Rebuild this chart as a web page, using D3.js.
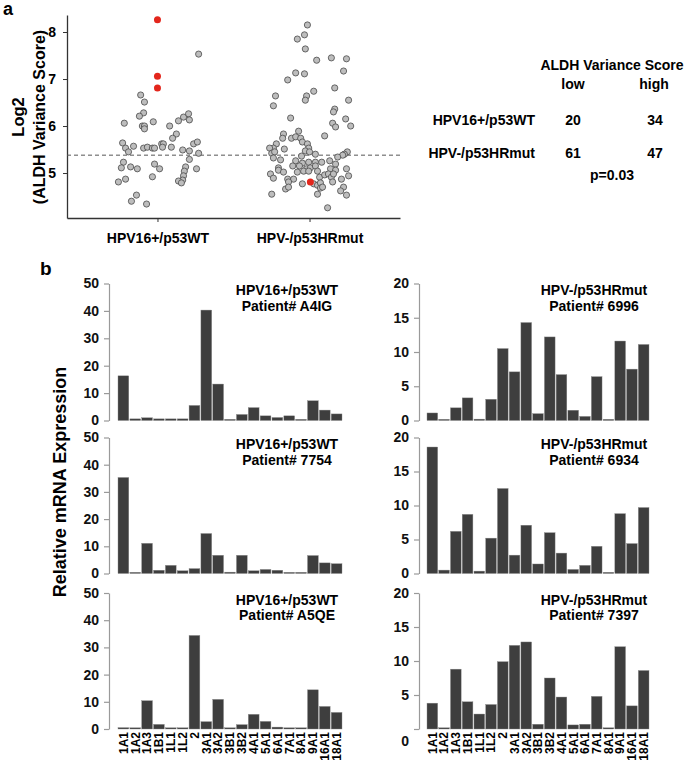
<!DOCTYPE html>
<html><head><meta charset="utf-8">
<script src="https://cdn.jsdelivr.net/npm/d3@7"></script>
<style>
body{margin:0;background:#fff}
svg{display:block;font-family:"Liberation Sans",Arial,Helvetica,sans-serif;font-weight:bold}
</style>
</head><body>
<svg id="c" width="685" height="761"></svg>
<script>
// ---------- Panel a data ----------
const groups = ["HPV16+/p53WT", "HPV-/p53HRmut"];
const hpv16Scores = [7.53,6.66,6.51,6.28,6.21,6.06,6.09,6.00,6.00,5.94,6.00,6.19,6.26,6.13,6.11,5.83,5.74,5.64,5.53,5.45,5.57,5.53,5.55,5.53,5.53,5.62,5.62,5.55,5.55,5.49,5.62,5.66,5.47,5.42,5.29,5.23,5.11,5.13,5.09,5.19,5.09,5.13,5.04,4.94,4.85,4.83,4.79,5.09,4.92,4.87,4.81,4.53,4.40,4.34];
const hpv16Jitter = [0.98,-0.40,-0.31,-0.33,-0.43,-0.79,-0.10,-0.36,-0.31,-0.31,0.29,0.62,0.74,0.76,0.50,0.45,0.36,-0.83,-0.76,-0.69,-0.57,-0.33,-0.24,-0.12,-0.07,0.10,0.14,0.12,0.33,0.60,0.86,0.95,0.76,0.98,0.76,-0.81,-0.86,-0.64,-0.48,-0.07,0.05,0.67,0.64,0.62,0.60,0.50,0.57,0.93,-0.12,-0.76,-0.93,-0.50,-0.62,-0.26];
const hpv16Highlight = [8.26, 7.06, 6.81];
const hpv16HighlightJitter = [0, 0, 0];
const hpvNegScores = [8.15,7.94,7.85,7.64,7.40,7.45,7.43,7.17,7.13,7.11,6.98,6.74,6.81,6.64,6.64,6.55,6.55,6.43,6.36,6.30,6.17,6.15,6.06,5.98,6.00,5.89,5.79,5.83,5.74,5.74,5.77,5.74,5.66,5.62,5.53,5.53,5.51,5.62,5.53,5.47,5.42,5.45,5.45,5.40,5.36,5.32,5.28,5.45,5.40,5.38,5.34,5.26,5.21,5.23,5.23,5.23,5.26,5.19,5.15,5.15,5.09,5.11,5.15,5.11,5.06,5.02,5.02,5.04,5.04,5.04,5.09,5.06,5.09,4.98,4.89,4.91,4.96,4.98,4.91,4.98,4.94,4.87,4.87,4.81,4.77,4.77,4.74,4.79,4.81,4.87,4.68,4.70,4.66,4.70,4.70,4.62,4.53,4.55,4.55,4.26];
const hpvNegJitter = [-0.05,-0.12,-0.29,-0.10,0.17,0.52,0.88,0.81,-0.33,-0.12,-0.52,0.10,0.60,-0.81,-0.07,-0.10,0.93,-0.86,0.60,0.57,-0.45,0.86,0.55,0.62,0.98,-0.26,0.36,-0.62,-0.64,-0.43,-0.33,-0.21,-0.17,-0.79,-0.86,-0.95,-0.60,-0.05,-0.02,-0.10,-0.90,-0.83,0.00,0.14,-0.19,-0.86,-0.69,0.90,0.83,0.79,0.67,-0.33,-0.17,-0.02,0.14,0.29,0.48,0.62,-0.40,-0.24,-0.07,0.02,0.14,-0.74,-0.74,-0.62,-0.29,-0.14,-0.02,0.19,0.50,0.62,0.88,-0.93,-0.86,0.24,0.36,0.45,0.52,0.57,0.93,-0.52,-0.38,-0.50,-0.17,0.10,0.19,0.26,0.55,0.76,0.26,0.31,-0.57,-0.50,0.81,0.74,0.88,-0.90,0.19,0.43];
const hpvNegHighlight = [4.81];
const hpvNegHighlightJitter = [0.02];
const scoreTicks = [5, 6, 7, 8];
const scoreCutoff = 5.38;

// ---------- Table data ----------
const tableTitle = "ALDH Variance Score";
const tableCols = ["low", "high"];
const tableRows = ["HPV16+/p53WT", "HPV-/p53HRmut"];
const tableCounts = [[20, 34], [61, 47]];
const pValueText = "p=0.03";

// ---------- Panel b data ----------
const genes = ["1A1","1A2","1A3","1B1","1L1","1L2","2","3A1","3A2","3B1","3B2","4A1","5A1","6A1","7A1","8A1","9A1","16A1","18A1"];
const patA4IG = [16.3,0.6,1.0,0.6,0.6,0.6,5.5,40.3,13.3,0.4,2.2,4.7,1.7,1.1,1.7,0.2,7.2,3.8,2.4];
const pat7754 = [35.3,0.1,11.1,1.2,3.0,1.0,1.8,14.7,6.7,0.5,6.7,1.0,1.5,1.2,0.4,0.1,6.6,3.9,3.6];
const patA5QE = [0.5,0.1,10.4,1.7,0.2,0.1,34.4,2.7,10.9,0.4,1.6,5.4,2.8,0.7,0.1,0.1,14.4,8.3,6.1];
const pat6996 = [1.1,0.15,1.85,3.3,0.2,3.1,10.5,7.1,14.3,1.0,12.2,6.7,1.5,0.6,6.4,0.05,11.6,7.5,11.1];
const pat6934 = [18.6,0.5,6.2,8.7,0.35,5.2,12.5,2.7,7.1,1.4,6.0,3.0,0.6,1.2,4.0,0.05,8.8,4.4,9.7];
const pat7397 = [3.8,0.0,8.8,4.0,2.2,3.6,9.9,12.3,12.8,0.7,7.5,4.7,0.6,0.7,4.8,0.05,12.1,3.4,8.6];
const leftTicks = [0, 10, 20, 30, 40, 50];
const rightTicks = [0, 5, 10, 15, 20];

// ---------- Drawing ----------
const svg = d3.select("#c");
const intFmt = d3.format("d");

// Panel labels
svg.append("text").attr("x", 3).attr("y", 15).attr("font-size", 18).text("a");
svg.append("text").attr("x", 40).attr("y", 275).attr("font-size", 19).text("b");

// Panel a scales
const xA = d3.scalePoint().domain(groups).range([67, 400]).padding(0.595);
const yA = d3.scaleLinear().domain([4.043, 8.362]).range([218, 15]);
const jitterHalf = 42;

const gAy = svg.append("g").attr("transform", "translate(67,0)")
  .call(d3.axisLeft(yA).tickValues(scoreTicks).tickFormat(intFmt).tickSize(4).tickSizeOuter(0).tickPadding(7));
const gAx = svg.append("g").attr("transform", "translate(0,218)")
  .call(d3.axisBottom(xA).tickSize(4).tickSizeOuter(0).tickPadding(6));
[gAy, gAx].forEach(g => {
  g.select(".domain").attr("stroke", "#333").attr("stroke-width", 1.3);
  g.selectAll(".tick line").attr("stroke", "#333").attr("stroke-width", 1);
  g.selectAll("text").attr("fill", "#000").attr("font-family", "Liberation Sans, Arial, sans-serif")
    .attr("font-weight", "bold").attr("font-size", 14);
});
gAx.selectAll("text").attr("dy", "1.05em");

// cutoff line
svg.append("line").attr("x1", 67).attr("x2", 400)
  .attr("y1", yA(scoreCutoff)).attr("y2", yA(scoreCutoff))
  .attr("stroke", "#555").attr("stroke-width", 1).attr("stroke-dasharray", "4,3");

// points
function drawPoints(scores, jit, group, fill, stroke, r) {
  svg.append("g").selectAll("circle").data(scores).join("circle")
    .attr("cx", (d, i) => xA(group) + jit[i] * jitterHalf)
    .attr("cy", d => yA(d))
    .attr("r", r).attr("fill", fill)
    .attr("stroke", stroke).attr("stroke-width", stroke === "none" ? 0 : 0.8);
}
drawPoints(hpv16Scores, hpv16Jitter, groups[0], "#bdbdbd", "#4a4a4a", 3.1);
drawPoints(hpvNegScores, hpvNegJitter, groups[1], "#bdbdbd", "#4a4a4a", 3.1);
drawPoints(hpv16Highlight, hpv16HighlightJitter, groups[0], "#e3261c", "none", 3.5);
drawPoints(hpvNegHighlight, hpvNegHighlightJitter, groups[1], "#e3261c", "none", 3.5);

// y label panel a
svg.append("text").attr("transform", "translate(24,117) rotate(-90)")
  .attr("text-anchor", "middle").attr("font-size", 16.5).text("Log2");
svg.append("text").attr("transform", "translate(45,117) rotate(-90)")
  .attr("text-anchor", "middle").attr("font-size", 16).text("(ALDH Variance Score)");

// Table
const colX = d3.scalePoint().domain(tableCols).range([573, 654]);
const rowY = d3.scalePoint().domain(tableRows).range([125, 158]);
svg.append("text").attr("x", 612).attr("y", 70).attr("text-anchor", "middle").attr("font-size", 14).text(tableTitle);
svg.append("g").selectAll("text").data(tableCols).join("text")
  .attr("x", d => colX(d)).attr("y", 89).attr("text-anchor", "middle").attr("font-size", 14).text(d => d);
tableRows.forEach((row, ri) => {
  svg.append("text").attr("x", 535).attr("y", rowY(row)).attr("text-anchor", "end").attr("font-size", 14).text(row);
  tableCols.forEach((col, ci) => {
    svg.append("text").attr("x", colX(col) + (ci === 1 ? 1 : 0)).attr("y", rowY(row))
      .attr("text-anchor", "middle").attr("font-size", 14).text(tableCounts[ri][ci]);
  });
});
svg.append("text").attr("x", 612).attr("y", 180).attr("text-anchor", "middle").attr("font-size", 14).text(pValueText);

// Panel b
const rowTops = [283.5, 437.5, 593];
const rowBottoms = [420.5, 573.5, 729];
const panels = [
  {col: 0, row: 0, values: patA4IG, type: groups[0], id: "A4IG"},
  {col: 0, row: 1, values: pat7754, type: groups[0], id: "7754"},
  {col: 0, row: 2, values: patA5QE, type: groups[0], id: "A5QE"},
  {col: 1, row: 0, values: pat6996, type: groups[1], id: "6996"},
  {col: 1, row: 1, values: pat6934, type: groups[1], id: "6934"},
  {col: 1, row: 2, values: pat7397, type: groups[1], id: "7397"}
];
const colAxisX = [109, 419];
const colBarRange = [[118, 342], [427, 649]];
const colMax = [50, 20];
const colTicks = [leftTicks, rightTicks];
const colTitleX = [287, 594];

panels.forEach(p => {
  const y = d3.scaleLinear().domain([0, colMax[p.col]]).range([rowBottoms[p.row], rowTops[p.row]]);
  const x = d3.scaleBand().domain(genes).range(colBarRange[p.col]).paddingInner(0.09).paddingOuter(0);
  const g = svg.append("g");
  g.selectAll("rect").data(p.values).join("rect")
    .attr("x", (d, i) => x(genes[i]))
    .attr("width", x.bandwidth())
    .attr("y", d => Math.min(y(d), y(0) - 1.2))
    .attr("height", d => Math.max(y(0) - y(d), 1.2))
    .attr("fill", "#3e3e3e").attr("stroke", "#8a8a8a").attr("stroke-width", 0.4);
  const ax = svg.append("g").attr("transform", `translate(${colAxisX[p.col]},0)`)
    .call(d3.axisLeft(y).tickValues(colTicks[p.col]).tickFormat(intFmt).tickSize(5).tickSizeOuter(0).tickPadding(5));
  ax.select(".domain").attr("stroke", "#9a9a9a").attr("stroke-width", 1.2);
  ax.selectAll(".tick line").attr("stroke", "#9a9a9a").attr("stroke-width", 1.2);
  ax.selectAll("text").attr("fill", "#111").attr("font-family", "Liberation Sans, Arial, sans-serif")
    .attr("font-weight", "bold").attr("font-size", 14);
  if (p.col === 1 && p.row === 2) {
    ax.selectAll(".tick").filter(d => d === 0).select("text").attr("dy", "1.2em");
  }
  svg.append("text").attr("x", colTitleX[p.col]).attr("y", rowTops[p.row] + 11.5)
    .attr("text-anchor", "middle").attr("font-size", 14).text(p.type);
  svg.append("text").attr("x", colTitleX[p.col]).attr("y", rowTops[p.row] + 27)
    .attr("text-anchor", "middle").attr("font-size", 14).text("Patient# " + p.id);
  if (p.row === 2) {
    svg.append("g").selectAll("text").data(genes).join("text")
      .attr("transform", d => `translate(${x(d) + x.bandwidth() / 2 + 4.3},732) rotate(-90)`)
      .attr("text-anchor", "end").attr("font-size", 12).text(d => d);
  }
});

svg.append("text").attr("transform", "translate(66,482) rotate(-90)")
  .attr("text-anchor", "middle").attr("font-size", 18).text("Relative mRNA Expression");
</script>
</body></html>
